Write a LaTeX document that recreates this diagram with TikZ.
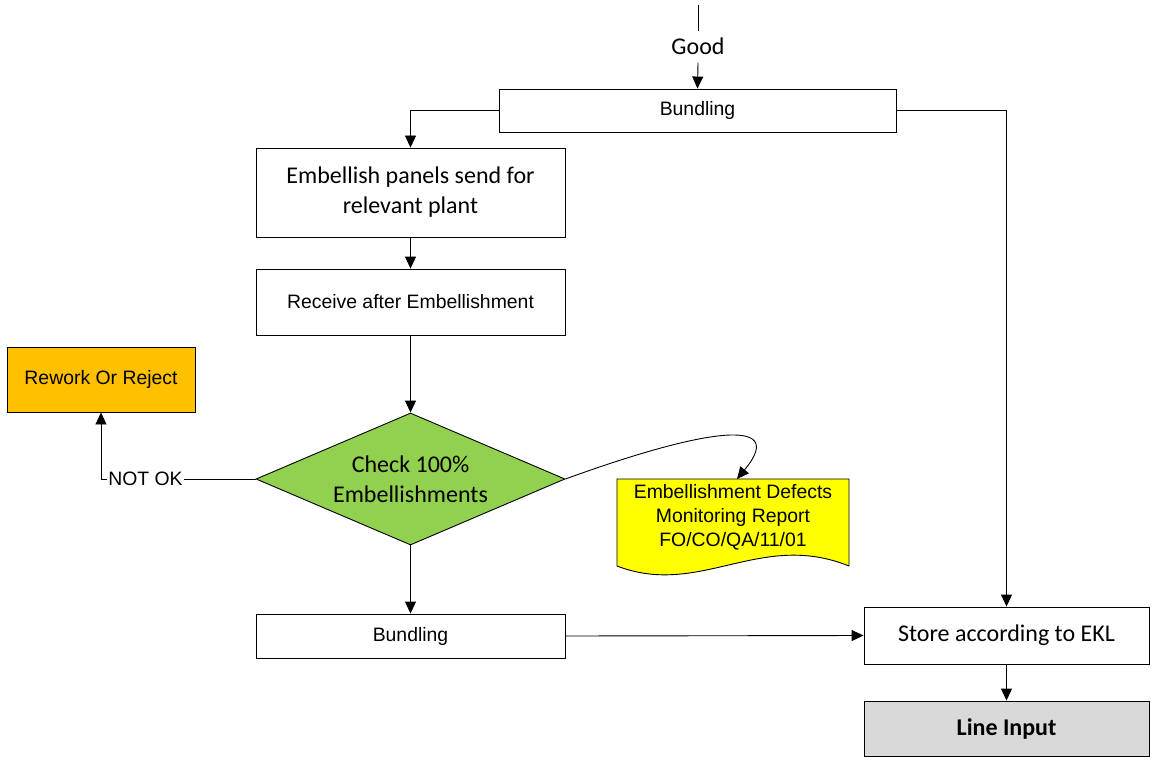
\documentclass[tikz,border=0pt]{standalone}
\usepackage{fontspec}
\setmainfont{Carlito}
\newfontfamily\arialf{Liberation Sans}
\usetikzlibrary{arrows.meta,shapes.geometric}
\definecolor{orangefill}{HTML}{FFC000}
\definecolor{greenfill}{HTML}{92D050}
\definecolor{yellowfill}{HTML}{FFFF00}
\definecolor{greyfill}{HTML}{D9D9D9}
\tikzset{
  box/.style={draw=black, line width=0.9pt, rectangle, inner sep=0pt, align=center, fill=white},
  cal/.style={font=\fontsize{24}{30}\selectfont},
  ari/.style={font=\arialf\fontsize{19.4}{24}\selectfont},
  arr/.style={draw=black, line width=0.9pt, -{Triangle[length=12pt,width=11pt]}},
  plain/.style={draw=black, line width=0.9pt},
  lbl/.style={fill=white, inner sep=1pt, font=\arialf\fontsize{19.4}{24}\selectfont},
}
\begin{document}
\begin{tikzpicture}[x=1pt,y=-1pt]
\useasboundingbox (0,0) rectangle (1151,757);

\coordinate (goodtop) at (698,5);
\node[cal, inner xsep=2pt, inner ysep=8pt, text height=15pt, text depth=0pt] (good) at (698,47) {Good};

\node[box, ari, minimum width=397pt, minimum height=43pt] (b1) at (697.5,110.5) {Bundling};
\node[box, cal, minimum width=309pt, minimum height=89pt] (emb) at (410.5,192.5) {Embellish panels send for\\relevant plant};
\node[box, ari, minimum width=309pt, minimum height=66pt] (rec) at (410.5,302) {Receive after Embellishment};
\node[draw=black, line width=0.9pt, diamond, aspect=2.34, inner sep=0pt, fill=greenfill, cal, align=center, minimum width=309pt, minimum height=132pt] (dia) at (410.5,479) {Check 100\%\\Embellishments};
\node[box, ari, fill=orangefill, minimum width=188pt, minimum height=65pt] (rwk) at (101,379.5) {Rework Or Reject};
\node[box, ari, minimum width=309pt, minimum height=44pt] (b2) at (410.5,636) {Bundling};
\node[box, cal, minimum width=285pt, minimum height=57pt] (store) at (1006.5,635.5) {Store according to EKL};
\node[box, cal, fill=greyfill, minimum width=285pt, minimum height=55pt, font=\bfseries\fontsize{24}{30}\selectfont] (line) at (1006.5,728.5) {Line Input};

% document shape
\path[draw=black, line width=0.9pt, fill=yellowfill]
  (617,479) -- (849,479) -- (849,566)
  .. controls (760,530) and (700,598) .. (617,566) -- cycle;
\node[ari, align=center, inner sep=0pt] (doc) at (733,517) {Embellishment Defects\\Monitoring Report\\FO/CO/QA/11/01};
\coordinate (docin) at (737,479);

% connectors
\draw[plain] (goodtop) -- (good.north);
\draw[arr] (good.south) -- (b1.north);
\draw[arr] (b1.west) -| (emb.north);
\draw[arr] (emb.south) -- (rec.north);
\draw[arr] (rec.south) -- (dia.north);
\draw[arr] (dia.west) -| node[lbl, pos=0.356] (notok) {NOT OK} (rwk.south);
\draw[arr] (dia.east) .. controls (700,430) and (790,415) .. (docin);
\draw[arr] (dia.south) -- (b2.north);
\draw[arr] (b2.east) -- (store.west);
\draw[arr] (b1.east) -| (store.north);
\draw[arr] (store.south) -- (line.north);
\end{tikzpicture}
\end{document}
